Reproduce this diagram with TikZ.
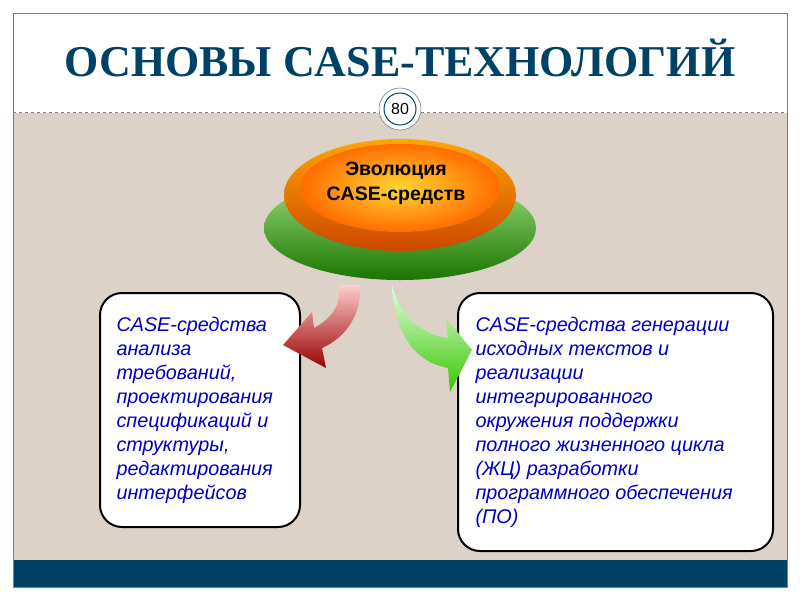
\documentclass[tikz,border=0pt]{standalone}
\usepackage{fontspec}
\setmainfont{Liberation Sans}
\newfontfamily\titlefont{Liberation Serif}
\begin{document}
\begin{tikzpicture}[x=1pt,y=-1pt,
  box/.style={draw=black,line width=2pt,rounded corners=22pt,fill=white},
  btext/.style={text=blue!75!black,font=\itshape\fontsize{19.8}{24}\selectfont,align=left,anchor=north west}]
\useasboundingbox (0,0) rectangle (800,600);
\fill[white] (0,0) rectangle (800,600);
\fill[black!12!white!85!brown] (13,113) rectangle (787,560);
\fill[blue!35!cyan!40!black] (13,560) rectangle (787,587);
\draw[gray,line width=0.6pt] (13,13) rectangle (787,587);
\draw[gray,dashed,line width=0.5pt] (13,112) -- (787,112);
\node[font=\titlefont\bfseries\fontsize{44}{48}\selectfont,text=blue!35!cyan!40!black] (title) at (400,58) {ОСНОВЫ CASE-ТЕХНОЛОГИЙ};
\node[circle,draw=gray,fill=white,minimum size=42pt,line width=0.6pt] (pg) at (400,109) {};
\node[circle,draw=blue!35!cyan!40!black,fill=white,minimum size=32pt,line width=1pt,font=\fontsize{16}{16}\selectfont] (pgn) at (400,109) {80};
\shade[top color=green!50!olive!50!white,bottom color=green!45!black!80!olive] (400,228) ellipse (136 and 52);
\shade[top color=orange!70!yellow,bottom color=orange!70!red!80!black] (400,195) ellipse (116 and 56);
\shade[inner color=orange!40!yellow!80!white,outer color=orange!85!red] (400,188) ellipse (100 and 44);
\node[font=\bfseries\fontsize{19.5}{25}\selectfont,align=center] (evo) at (396,183) {Эволюция\\CASE-средств};
\node[box,minimum width=200pt,minimum height=234pt] (lbox) at (200,410) {};
\node[box,minimum width=315pt,minimum height=258pt] (rbox) at (615.5,422) {};
\shade[top color=red!20!white,bottom color=red!60!black]
  (360,285) .. controls (362,315) and (345,338) .. (322,348) -- (326,368) -- (283,345) -- (312,312) -- (314,328)
  .. controls (332,318) and (342,305) .. (338,285) -- cycle;
\shade[top color=green!12!white,bottom color=green!55!olive]
  (392,285) .. controls (398,312) and (420,335) .. (448,338) -- (446,318) -- (472,350) -- (450,392) -- (448,368)
  .. controls (415,362) and (395,335) .. (392,285) -- cycle;
\node[btext] (lt) at (113,314) {CASE-средства\\анализа\\требований,\\проектирования\\спецификаций и\\структуры,\\редактирования\\интерфейсов};
\node[btext] (rt) at (472,314) {CASE-средства генерации\\исходных текстов и\\реализации\\интегрированного\\окружения поддержки\\полного жизненного цикла\\(ЖЦ) разработки\\программного обеспечения\\(ПО)};
\end{tikzpicture}
\end{document}
